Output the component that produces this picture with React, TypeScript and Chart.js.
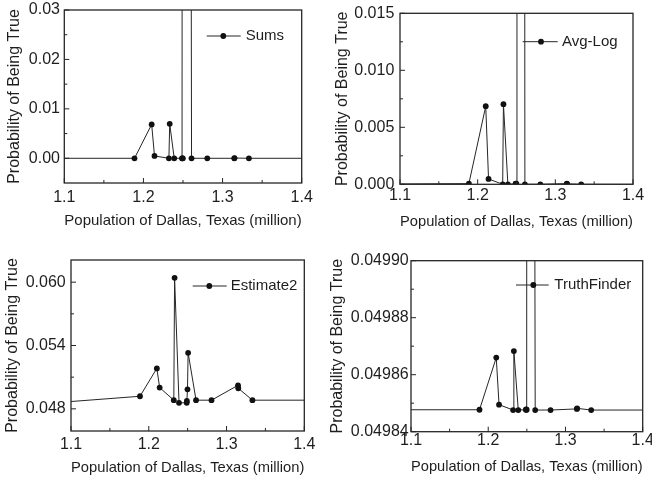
import React, { useEffect, useRef } from "react";
import { Chart, registerables } from "chart.js";

Chart.register(...registerables);

// ---------- data ----------
const populations = [1.0, 1.1887, 1.2104, 1.214, 1.2322, 1.2332, 1.2389, 1.2488, 1.249, 1.2498, 1.2506, 1.2608, 1.2807, 1.3148, 1.3151, 1.3333, 1.5];

const sumsProb = [0, 0, 0.00685, 0.00047, 0, 0.00698, 0, 0, 0, 0, 0.96, 0, 0, 0, 0.00005, 0, 0];
const avgLogProb = [0, 0.00006, 0.00685, 0.00047, 0, 0.00703, 0, 0.00003, 0.00006, 0.00006, 0.98, 0, 0, 0.00006, 0.00004, 0, 0];
const estimate2Prob = [0.04813, 0.04919, 0.05183, 0.05001, 0.04882, 0.06041, 0.04857, 0.04857, 0.04875, 0.04985, 0.05331, 0.04882, 0.04882, 0.05023, 0.04995, 0.04882, 0.04882];
const truthFinderProb = [0.0498477, 0.0498477, 0.049866, 0.0498495, 0.0498476, 0.0498683, 0.0498476, 0.0498477, 0.0498478, 0.0498477, 0.0512, 0.0498476, 0.0498476, 0.049848, 0.0498482, 0.0498476, 0.0498476];

const xTicks = [1.1, 1.2, 1.3, 1.4];
const xMinorTicks = [1.15, 1.25, 1.35];

const sumsYTicks = [0, 0.01, 0.02, 0.03];
const sumsYMinor = [0.005, 0.015, 0.025];
const avgLogYTicks = [0, 0.005, 0.01, 0.015];
const avgLogYMinor = [0.0025, 0.0075, 0.0125];
const estimate2YTicks = [0.048, 0.054, 0.06];
const estimate2YMinor = [0.051, 0.057];
const truthFinderYTicks = [0.04984, 0.04986, 0.04988, 0.0499];
const truthFinderYMinor = [0.04985, 0.04987, 0.04989];

const X_TITLE = "Population of Dallas, Texas (million)";
const Y_TITLE = "Probability of Being True";

// ---------- styling ----------
const FONT = '"Liberation Sans", Arial, Helvetica, sans-serif';
const TEXT = "#1e1e1e";
const LINE = "#262626";
const DOT = "#111111";

type Panel = {
  label: string;
  values: number[];
  yMin: number;
  yMax: number;
  yTicks: number[];
  yMinor: number[];
  decimals: number;
  box: { left: number; top: number; width: number; height: number };
  area: { left: number; right: number; top: number; bottom: number };
  xTickPad: number;
  yTickPad: number;
  xTitlePad: number;
  yTitlePad: number;
  legend: { x1: number; x2: number; y: number; dot: number; text: number };
};

const panels: Panel[] = [
  {
    label: "Sums",
    values: sumsProb,
    yMin: -0.005,
    yMax: 0.03,
    yTicks: sumsYTicks,
    yMinor: sumsYMinor,
    decimals: 2,
    box: { left: 0, top: 0, width: 326, height: 240 },
    area: { left: 64.3, right: 301.7, top: 10, bottom: 183 },
    xTickPad: 5.2,
    yTickPad: 4.3,
    xTitlePad: 10.2,
    yTitlePad: 4.9,
    legend: { x1: 206.7, x2: 240.7, y: 36, dot: 223.3, text: 245.7 },
  },
  {
    label: "Avg-Log",
    values: avgLogProb,
    yMin: 0,
    yMax: 0.015,
    yTicks: avgLogYTicks,
    yMinor: avgLogYMinor,
    decimals: 3,
    box: { left: 326, top: 0, width: 326, height: 240 },
    area: { left: 74, right: 307, top: 13.3, bottom: 184.3 },
    xTickPad: 1.9,
    yTickPad: 5.7,
    xTitlePad: 9,
    yTitlePad: 6.6,
    legend: { x1: 196.7, x2: 231.7, y: 41.7, dot: 215, text: 236 },
  },
  {
    label: "Estimate2",
    values: estimate2Prob,
    yMin: 0.0459,
    yMax: 0.0621,
    yTicks: estimate2YTicks,
    yMinor: estimate2YMinor,
    decimals: 3,
    box: { left: 0, top: 240, width: 326, height: 241 },
    area: { left: 71, right: 304.3, top: 20, bottom: 191 },
    xTickPad: 3.6,
    yTickPad: 5.3,
    xTitlePad: 4.3,
    yTitlePad: 3.2,
    legend: { x1: 192.7, x2: 226.7, y: 46, dot: 209.3, text: 230.7 },
  },
  {
    label: "TruthFinder",
    values: truthFinderProb,
    yMin: 0.04984,
    yMax: 0.0499,
    yTicks: truthFinderYTicks,
    yMinor: truthFinderYMinor,
    decimals: 5,
    box: { left: 326, top: 240, width: 326, height: 241 },
    area: { left: 85, right: 316.7, top: 20.7, bottom: 191.7 },
    xTickPad: -0.5,
    yTickPad: 2.3,
    xTitlePad: 4.7,
    yTitlePad: 2.4,
    legend: { x1: 190, x2: 222.7, y: 45, dot: 207.3, text: 228.3 },
  },
];

function makeDecor(p: Panel) {
  return {
    id: "decor",
    afterDatasetsDraw(chart: any) {
      const { ctx, chartArea: a, scales } = chart;
      const xs = scales.x;
      const ys = scales.y;
      ctx.save();
      ctx.strokeStyle = LINE;
      ctx.lineWidth = 1.3;
      ctx.strokeRect(a.left, a.top, a.right - a.left, a.bottom - a.top);
      ctx.lineWidth = 1;
      ctx.beginPath();
      xTicks.forEach((v) => {
        const px = xs.getPixelForValue(v);
        ctx.moveTo(px, a.bottom);
        ctx.lineTo(px, a.bottom - 5);
      });
      xMinorTicks.forEach((v) => {
        const px = xs.getPixelForValue(v);
        ctx.moveTo(px, a.bottom);
        ctx.lineTo(px, a.bottom - 3);
      });
      p.yTicks.forEach((v) => {
        const py = ys.getPixelForValue(v);
        ctx.moveTo(a.left, py);
        ctx.lineTo(a.left + 5, py);
      });
      p.yMinor.forEach((v) => {
        const py = ys.getPixelForValue(v);
        ctx.moveTo(a.left, py);
        ctx.lineTo(a.left + 3, py);
      });
      ctx.stroke();

      // legend
      const L = p.legend;
      ctx.beginPath();
      ctx.moveTo(L.x1, L.y);
      ctx.lineTo(L.x2, L.y);
      ctx.stroke();
      ctx.fillStyle = DOT;
      ctx.beginPath();
      ctx.arc(L.dot, L.y, 2.9, 0, Math.PI * 2);
      ctx.fill();
      ctx.fillStyle = TEXT;
      ctx.font = `15px ${FONT}`;
      ctx.textAlign = "left";
      ctx.textBaseline = "middle";
      ctx.fillText(p.label, L.text, L.y);
      ctx.restore();
    },
  };
}

function PanelChart({ p }: { p: Panel }) {
  const ref = useRef<HTMLCanvasElement>(null);
  useEffect(() => {
    const canvas = ref.current!;
    const chart = new Chart(canvas, {
      type: "line",
      data: {
        datasets: [
          {
            label: p.label,
            data: populations.map((x, i) => ({ x, y: p.values[i] })),
            borderColor: LINE,
            borderWidth: 1,
            pointRadius: 2.9,
            pointBackgroundColor: DOT,
            pointBorderColor: DOT,
            pointBorderWidth: 0,
            tension: 0,
            fill: false,
          },
        ],
      },
      options: {
        responsive: false,
        animation: false,
        devicePixelRatio: 1,
        layout: {
          padding: { left: 0, top: p.area.top, right: p.box.width - p.area.right, bottom: 0 },
        },
        plugins: { legend: { display: false }, tooltip: { enabled: false } },
        scales: {
          x: {
            type: "linear",
            min: 1.1,
            max: 1.4,
            afterBuildTicks: (s: any) => {
              s.ticks = xTicks.map((v) => ({ value: v }));
            },
            afterFit: (s: any) => {
              s.height = p.box.height - p.area.bottom;
              s.paddingLeft = 0;
              s.paddingRight = 0;
            },
            grid: { display: false, drawTicks: false },
            border: { display: false },
            ticks: {
              padding: p.xTickPad,
              color: TEXT,
              font: { family: FONT, size: 16 },
              maxRotation: 0,
              autoSkip: false,
              callback: (v: any) => Number(v).toFixed(1),
            },
            title: {
              display: true,
              text: X_TITLE,
              color: TEXT,
              font: { family: FONT, size: 15 },
              padding: { top: 0, bottom: p.xTitlePad },
            },
          },
          y: {
            type: "linear",
            min: p.yMin,
            max: p.yMax,
            afterBuildTicks: (s: any) => {
              s.ticks = p.yTicks.map((v) => ({ value: v }));
            },
            afterFit: (s: any) => {
              s.width = p.area.left;
              s.paddingTop = 0;
              s.paddingBottom = 0;
            },
            grid: { display: false, drawTicks: false },
            border: { display: false },
            ticks: {
              padding: p.yTickPad,
              color: TEXT,
              font: { family: FONT, size: 16 },
              autoSkip: false,
              callback: (v: any) => Number(v).toFixed(p.decimals),
            },
            title: {
              display: true,
              text: Y_TITLE,
              color: TEXT,
              font: { family: FONT, size: 16 },
              padding: { top: p.yTitlePad, bottom: 0 },
            },
          },
        },
      } as any,
      plugins: [makeDecor(p)],
    });
    return () => chart.destroy();
  }, [p]);
  return (
    <canvas
      ref={ref}
      width={p.box.width}
      height={p.box.height}
      style={{
        position: "absolute",
        left: p.box.left,
        top: p.box.top,
        width: p.box.width,
        height: p.box.height,
      }}
    />
  );
}

export default function App() {
  return (
    <div
      style={{
        position: "fixed",
        left: 0,
        top: 0,
        width: 652,
        height: 481,
        background: "#ffffff",
        overflow: "hidden",
      }}
    >
      {panels.map((p) => (
        <PanelChart key={p.label} p={p} />
      ))}
    </div>
  );
}
